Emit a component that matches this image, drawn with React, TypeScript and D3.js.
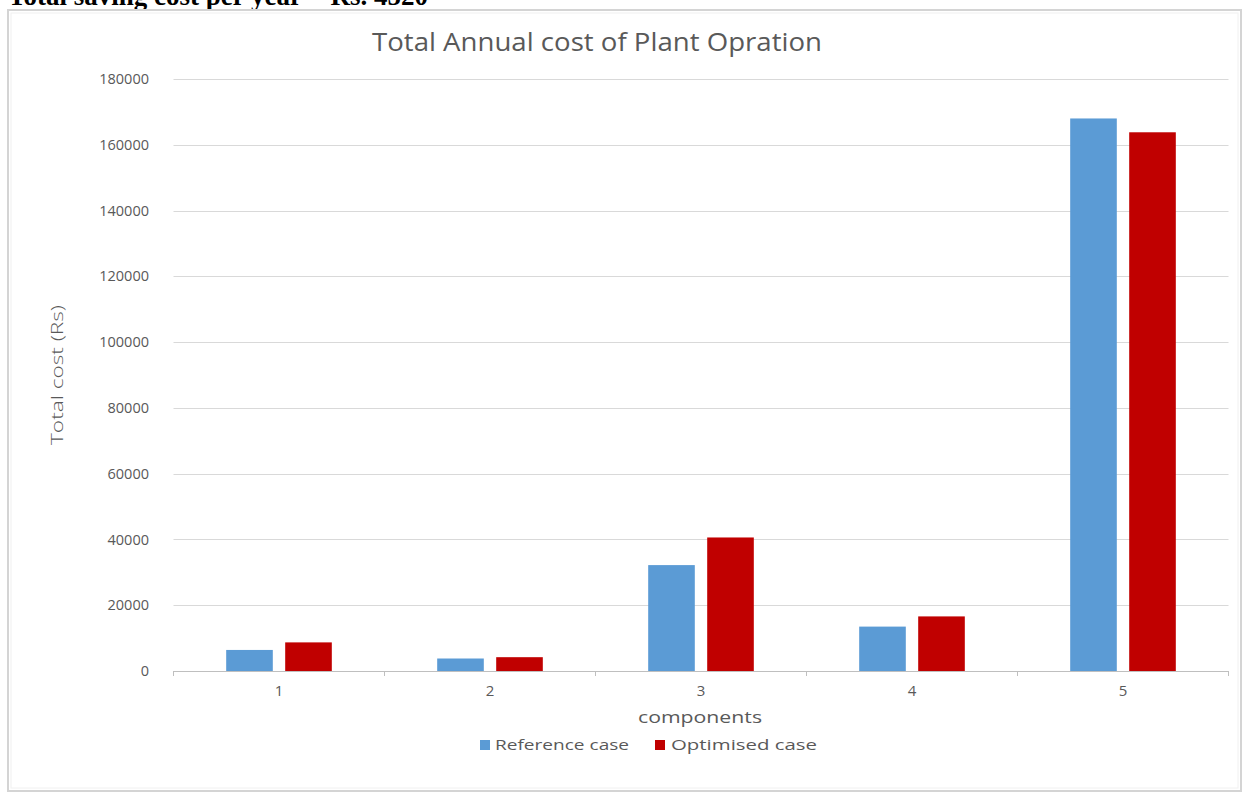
import * as d3 from 'd3';

const CATEGORIES = ['1', '2', '3', '4', '5'];
const SERIES = ['Reference case', 'Optimised case'];
const REFERENCE_VALUES = [6400, 3800, 32200, 13500, 168000];
const OPTIMISED_VALUES = [8700, 4200, 40600, 16600, 163800];
const Y_TICKS = [0, 20000, 40000, 60000, 80000, 100000, 120000, 140000, 160000, 180000];

const COLORS = ['#5b9bd5', '#c00000'];

const W = 1255;
const H = 798;
const PLOT = { left: 173.5, right: 1228.5, top: 79, bottom: 671 };

export default function App() {
  const x0 = d3.scaleBand<string>().domain(CATEGORIES).range([PLOT.left, PLOT.right]).padding(0);
  const x1 = d3
    .scaleBand<string>()
    .domain(SERIES)
    .range([0, x0.bandwidth()])
    .paddingInner(0.21)
    .paddingOuter(0.893);
  const y = d3.scaleLinear().domain([0, 180000]).range([PLOT.bottom, PLOT.top]);

  const rows = CATEGORIES.map((c, i) => ({
    cat: c,
    values: [REFERENCE_VALUES[i], OPTIMISED_VALUES[i]]
  }));

  const font = '"Open Sans", "DejaVu Sans", sans-serif';
  const textGray = '#595959';

  // legend placement: [square x, text x, text length]
  const legendPos = [
    [480, 495, 134],
    [655, 671, 146]
  ];

  return (
    <svg
      width={W}
      height={H}
      style={{ position: 'absolute', left: 0, top: 0, background: '#fff' }}
    >
      {/* heading left over from the page above the chart (cut off in the source too) */}
      <text
        x={8}
        y={5}
        fontFamily='"Liberation Serif", serif'
        fontWeight="bold"
        fontSize={27}
        fill="#000"
      >
        Total saving cost per year = Rs. 4520
      </text>

      {/* chart frame */}
      <rect x={8} y={10} width={1233} height={781} fill="#fff" stroke="#d4d4d4" strokeWidth={2} />
      <rect x={11} y={13} width={1227} height={775} fill="none" stroke="#f0f0f0" strokeWidth={1} />

      <text
        x={372}
        y={51}
        textLength={450}
        lengthAdjust="spacingAndGlyphs"
        fontFamily={font}
        fontSize={25}
        fill={textGray}
      >
        Total Annual cost of Plant Opration
      </text>

      {/* gridlines */}
      {Y_TICKS.map(t => (
        <g key={t}>
          <line
            x1={PLOT.left}
            x2={PLOT.right}
            y1={Math.round(y(t)) + 0.5}
            y2={Math.round(y(t)) + 0.5}
            stroke="#d9d9d9"
            strokeWidth={1}
          />
          <text
            x={149}
            y={y(t)}
            dy="0.35em"
            textAnchor="end"
            fontFamily={font}
            fontSize={14.5}
            fill={textGray}
          >
            {t}
          </text>
        </g>
      ))}

      {/* bars */}
      {rows.map(r => (
        <g key={r.cat} transform={`translate(${x0(r.cat)},0)`}>
          {r.values.map((v, j) => (
            <rect
              key={SERIES[j]}
              x={x1(SERIES[j])}
              y={y(v)}
              width={x1.bandwidth()}
              height={y(0) - y(v)}
              fill={COLORS[j]}
            />
          ))}
        </g>
      ))}

      {/* x axis */}
      <line x1={PLOT.left} x2={PLOT.right} y1={PLOT.bottom + 0.5} y2={PLOT.bottom + 0.5} stroke="#bfbfbf" />
      {CATEGORIES.map(c => (
        <line
          key={'t' + c}
          x1={x0(c)}
          x2={x0(c)}
          y1={PLOT.bottom}
          y2={PLOT.bottom + 5}
          stroke="#bfbfbf"
        />
      ))}
      <line x1={PLOT.right} x2={PLOT.right} y1={PLOT.bottom} y2={PLOT.bottom + 5} stroke="#bfbfbf" />
      {CATEGORIES.map(c => (
        <text
          key={'l' + c}
          x={(x0(c) ?? 0) + x0.bandwidth() / 2}
          y={696}
          textAnchor="middle"
          fontFamily={font}
          fontSize={15}
          fill={textGray}
        >
          {c}
        </text>
      ))}

      <text
        x={638}
        y={723}
        textLength={124}
        lengthAdjust="spacingAndGlyphs"
        fontFamily={font}
        fontSize={16}
        fill={textGray}
      >
        components
      </text>

      <text
        transform={`translate(63,${(PLOT.top + PLOT.bottom) / 2}) rotate(-90)`}
        x={-70}
        textLength={140}
        lengthAdjust="spacingAndGlyphs"
        fontFamily={font}
        fontWeight={300}
        fontSize={16}
        fill={textGray}
      >
        Total cost (Rs)
      </text>

      {/* legend */}
      {SERIES.map((s, i) => {
        const [sx, tx, tl] = legendPos[i];
        return (
          <g key={s}>
            <rect x={sx} y={740} width={10} height={10} fill={COLORS[i]} />
            <text
              x={tx}
              y={745}
              dy="0.35em"
              textLength={tl}
              lengthAdjust="spacingAndGlyphs"
              fontFamily={font}
              fontSize={15}
              fill={textGray}
            >
              {s}
            </text>
          </g>
        );
      })}
    </svg>
  );
}
